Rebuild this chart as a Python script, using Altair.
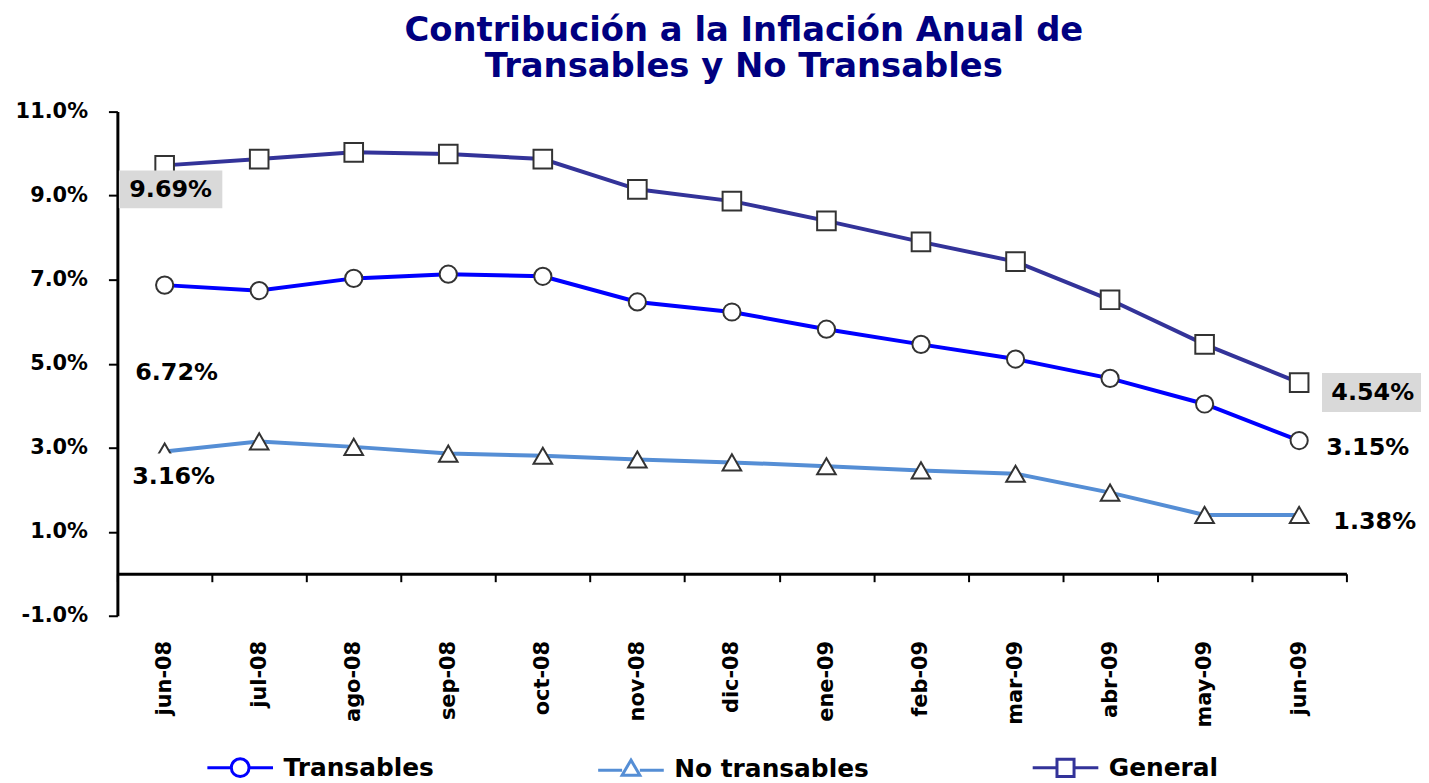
import altair as alt
import pandas as pd

# ---- data ----
months = ["jun-08", "jul-08", "ago-08", "sep-08", "oct-08", "nov-08", "dic-08",
          "ene-09", "feb-09", "mar-09", "abr-09", "may-09", "jun-09"]
transables = [6.87, 6.74, 7.03, 7.13, 7.08, 6.47, 6.23, 5.82, 5.46, 5.11, 4.65, 4.04, 3.17]
no_transables = [2.91, 3.15, 3.02, 2.86, 2.81, 2.72, 2.65, 2.56, 2.46, 2.38, 1.93, 1.40, 1.40]
general = [9.72, 9.87, 10.03, 9.99, 9.87, 9.15, 8.87, 8.40, 7.90, 7.43, 6.52, 5.46, 4.55]
series = ["Transables", "No transables", "General"]
y_ticks = [-1, 1, 3, 5, 7, 9, 11]

# annotation texts (text, month, value-axis position)
label_texts = ["9.69%", "4.54%", "6.72%", "3.16%", "3.15%", "1.38%"]
label_months = ["jun-08", "jun-09", "jun-08", "jun-08", "jun-09", "jun-09"]
label_y = [9.13, 4.30, 4.78, 2.29, 3.00, 1.22]

# ---- styles ----
FONT = "DejaVu Sans"
colors = ["#0000FF", "#558ED5", "#333399"]
marker_shapes = ["circle", "triangle-up", "square"]
marker_sizes = [300, 350, 350]
legend_paths = [
    "M-1,0L-0.27,0M0.27,0L1,0M-0.27,0A0.27,0.27 0 1,1 0.27,0A0.27,0.27 0 1,1 -0.27,0Z",
    "M-1,0.05L-0.27,0.05M0.27,0.05L1,0.05M0,-0.26L0.27,0.2L-0.27,0.2Z",
    "M-1,0L-0.26,0M0.26,0L1,0M-0.26,-0.26L0.26,-0.26L0.26,0.26L-0.26,0.26Z",
]
label_dx = [6, 74, 12, 9, 69, 76]

rows = []
for i, m in enumerate(months):
    for s, vals in zip(series, [transables, no_transables, general]):
        rows.append({"mes": m, "serie": s, "valor": vals[i]})
df = pd.DataFrame(rows)

x_enc = alt.X(
    "mes:N", sort=months,
    scale=alt.Scale(type="band", paddingInner=0, paddingOuter=0),
    axis=alt.Axis(
        title=None, orient="bottom", offset=-42.25, grid=False,
        domainWidth=3, domainColor="black",
        ticks=True, tickBand="extent", tickSize=8, tickWidth=2, tickColor="black",
        labelAngle=270, labelPadding=59, labelFont=FONT, labelFontSize=21,
        labelFontWeight="bold", labelColor="black",
    ),
)
y_enc = alt.Y(
    "valor:Q",
    scale=alt.Scale(domain=[-1, 11], nice=False, zero=False),
    axis=alt.Axis(
        title=None, values=y_ticks, grid=False,
        labelExpr="replace(format(datum.value, '.1f'), '\u2212', '-') + '%'",
        domainWidth=3, domainColor="black",
        tickSize=9, tickWidth=2, tickColor="black",
        labelPadding=21, labelFont=FONT, labelFontSize=21,
        labelFontWeight="bold", labelColor="black",
    ),
)

layers = []
for k, (s, col) in enumerate(zip(series, colors)):
    base = alt.Chart(df).transform_filter(alt.datum.serie == s)
    ln = base.mark_line(strokeWidth=4, color=col).encode(
        x=x_enc if k == 0 else alt.X("mes:N", sort=months),
        y=y_enc if k == 0 else alt.Y("valor:Q"),
    )
    layers.append(ln)
for s, shp, sz in zip(series, marker_shapes, marker_sizes):
    layers.append(
        alt.Chart(df).transform_filter(alt.datum.serie == s).mark_point(
            shape=shp, size=sz, filled=True, fill="white", stroke="#333333",
            strokeWidth=2, opacity=1,
        ).encode(x=alt.X("mes:N", sort=months), y="valor:Q")
    )

leg = alt.Legend(
    orient="none", legendX=89, legendY=625, direction="horizontal", title=None,
    symbolSize=66 * 66, symbolStrokeWidth=3, symbolFillColor="white",
    labelFont=FONT, labelFontSize=25, labelFontWeight="bold", labelColor="black",
    labelOffset=9, columnPadding=158, labelLimit=400,
)
legend_layer = alt.Chart(df).transform_filter("false").mark_point(
    fill="white", filled=False, strokeWidth=3, opacity=1
).encode(
    x=alt.X("mes:N", sort=months), y="valor:Q",
    stroke=alt.Stroke("serie:N", scale=alt.Scale(domain=series, range=colors), legend=leg),
    shape=alt.Shape("serie:N", scale=alt.Scale(domain=series, range=legend_paths), legend=leg),
)

# label boxes
box_df1 = pd.DataFrame({"mes": ["jun-08"], "lo": [8.70], "hi": [9.60]})
box_df2 = pd.DataFrame({"mes": ["jun-09"], "lo": [3.85], "hi": [4.78]})
box_df3 = pd.DataFrame({"mes": ["jun-08"], "lo": [1.77], "hi": [2.86]})
box1 = alt.Chart(box_df1).mark_bar(width=104, xOffset=6, color="#D9D9D9").encode(
    x=alt.X("mes:N", sort=months), y="lo:Q", y2="hi:Q")
box2 = alt.Chart(box_df2).mark_bar(width=104, xOffset=75, color="#D9D9D9").encode(
    x=alt.X("mes:N", sort=months), y="lo:Q", y2="hi:Q")
box3 = alt.Chart(box_df3).mark_bar(width=96, xOffset=10, color="white").encode(
    x=alt.X("mes:N", sort=months), y="lo:Q", y2="hi:Q")

texts = []
for t, m, yv, dx in zip(label_texts, label_months, label_y, label_dx):
    tdf = pd.DataFrame({"mes": [m], "v": [yv], "t": [t]})
    texts.append(
        alt.Chart(tdf).mark_text(
            dx=dx, font=FONT, fontSize=24, fontWeight="bold", color="black",
            align="center", baseline="middle",
        ).encode(x=alt.X("mes:N", sort=months), y="v:Q", text="t:N")
    )

chart = alt.layer(
    *layers, box3, box1, box2, legend_layer, *texts
).properties(
    width=1236, height=507,
    padding={"left": 110, "top": 102, "right": 75, "bottom": 166},
    autosize=alt.AutoSizeParams(type="none"),
    background="white",
    title=alt.Title(
        ["Contribución a la Inflación Anual de", "Transables y No Transables"],
        font=FONT, fontSize=34, fontWeight="bold", color="#000080",
        anchor="middle", offset=17, dx=12, lineHeight=36,
    ),
).configure_view(stroke=None)

chart.save("out.html", embed_options={"renderer": "svg", "actions": False})
